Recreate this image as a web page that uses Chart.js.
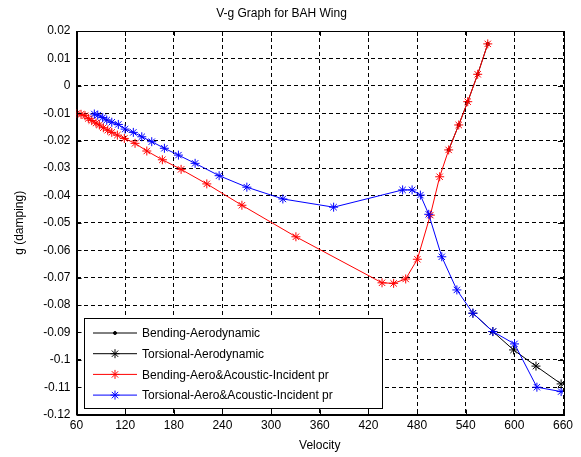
<!DOCTYPE html>
<html>
<head>
<meta charset="utf-8">
<script src="https://cdn.jsdelivr.net/npm/chart.js@4/dist/chart.umd.min.js"></script>
<style>
  body { margin: 0; background: #fff; }
  canvas { display: block; }
</style>
</head>
<body>
<canvas id="vg" width="581" height="457"></canvas>
<script>
// valores
const vBendAero = [519, 531.4, 542.5, 554.8, 567.2];
const gBendAero = [-0.0234, -0.0143, -0.0058, 0.0042, 0.0153];

const vTorsAero = [548.9, 573.5, 599.0, 626.7, 657.7];
const gTorsAero = [-0.0830, -0.0897, -0.0964, -0.1023, -0.1088];

const vBendAcou = [60.5, 65.6, 70.5, 74.6, 78.8, 84.1, 88.2, 93.1, 98.5, 103.5, 110.4, 119, 132.2, 146.7, 165.9, 189, 220.7, 264, 330.6, 436.8, 451.1, 466, 480.4, 496.4, 507.9, 519, 531.4, 542.5, 554.8, 567.2];
const gBendAcou = [-0.0101, -0.0104, -0.0109, -0.0119, -0.0127, -0.0136, -0.0143, -0.0153, -0.0162, -0.0170, -0.0180, -0.0192, -0.0210, -0.0238, -0.0270, -0.0305, -0.0358, -0.0436, -0.0551, -0.0719, -0.0721, -0.0705, -0.0633, -0.0472, -0.0332, -0.0234, -0.0143, -0.0058, 0.0042, 0.0153];

const vTorsAcou = [82, 86.2, 92.3, 97.3, 103.5, 111.6, 119.9, 130.1, 140.5, 152.8, 168.4, 185.7, 206.3, 235.9, 270.1, 314.5, 377.1, 462.2, 473.9, 484.1, 494.4, 510.5, 529.1, 548.9, 573.5, 600.2, 627.8, 657.7];
const gTorsAcou = [-0.0103, -0.0107, -0.0116, -0.0125, -0.0133, -0.0141, -0.0158, -0.0170, -0.0186, -0.0204, -0.0228, -0.0253, -0.0283, -0.0328, -0.0370, -0.0413, -0.0443, -0.0380, -0.0380, -0.0399, -0.0469, -0.0624, -0.0745, -0.0830, -0.0897, -0.0942, -0.1100, -0.1116];

const legendas = ['Bending-Aerodynamic', 'Torsional-Aerodynamic', 'Bending-Aero&Acoustic-Incident pr', 'Torsional-Aero&Acoustic-Incident pr'];
const cores = ['#000000', '#000000', '#ff0000', '#0000ff'];

function pontos(vs, gs) {
   return vs.map((v, i) => ({ x: v, y: gs[i] }));
}

const fonte = '"Liberation Sans", Arial, sans-serif';

// moldura, tracinhos e legenda estilo matlab
const molduraLegenda = {
   id: 'molduraLegenda',
   afterDatasetsDraw(chart) {
      const ctx = chart.ctx;
      const a = chart.chartArea;
      ctx.save();
      ctx.strokeStyle = '#000';
      ctx.lineWidth = 1;
      ctx.strokeRect(Math.round(a.left) + 0.5, Math.round(a.top) + 0.5, Math.round(a.right - a.left), Math.round(a.bottom - a.top));

      // tracinhos para dentro
      const sx = chart.scales.x, sy = chart.scales.y;
      ctx.beginPath();
      sx.ticks.forEach(t => {
         const px = Math.round(sx.getPixelForValue(t.value)) + 0.5;
         ctx.moveTo(px, a.bottom); ctx.lineTo(px, a.bottom - 5);
         ctx.moveTo(px, a.top); ctx.lineTo(px, a.top + 5);
      });
      sy.ticks.forEach(t => {
         const py = Math.round(sy.getPixelForValue(t.value)) + 0.5;
         ctx.moveTo(a.left, py); ctx.lineTo(a.left + 5, py);
         ctx.moveTo(a.right, py); ctx.lineTo(a.right - 5, py);
      });
      ctx.stroke();

      const bx = 84, by = 318, bw = 298, bh = 90;
      ctx.fillStyle = '#fff';
      ctx.fillRect(bx, by, bw, bh);
      ctx.strokeRect(bx + 0.5, by + 0.5, bw, bh);

      ctx.font = '12px ' + fonte;
      ctx.textBaseline = 'middle';
      legendas.forEach((txt, i) => {
         const y = 333 + i * 20.7;
         const ds = chart.data.datasets[i];
         ctx.strokeStyle = cores[i];
         ctx.fillStyle = cores[i];
         ctx.lineWidth = 1;
         ctx.beginPath();
         ctx.moveTo(93, y);
         ctx.lineTo(137, y);
         ctx.stroke();
         Chart.helpers.drawPoint(ctx, {
            pointStyle: ds.pointStyle,
            radius: ds.pointRadius,
            rotation: 0,
            borderWidth: 1
         }, 115, y);
         ctx.fillStyle = '#000';
         ctx.fillText(txt, 142, y + 1);
      });
      ctx.restore();
   }
};

const fundoBranco = {
   id: 'fundoBranco',
   beforeDraw(chart) {
      const ctx = chart.ctx;
      ctx.save();
      ctx.fillStyle = '#fff';
      ctx.fillRect(0, 0, chart.width, chart.height);
      ctx.restore();
   }
};

const ctx = document.getElementById('vg');
new Chart(ctx, {
   type: 'scatter',
   data: {
      datasets: [{
         label: legendas[0],
         data: pontos(vBendAero, gBendAero),
         showLine: true,
         borderColor: cores[0],
         backgroundColor: cores[0],
         borderWidth: 1,
         pointStyle: 'circle',
         pointRadius: 1.5,
         order: 3
      }, {
         label: legendas[1],
         data: pontos(vTorsAero, gTorsAero),
         showLine: true,
         borderColor: cores[1],
         backgroundColor: cores[1],
         borderWidth: 1,
         pointStyle: 'star',
         pointRadius: 4.5,
         order: 2
      }, {
         label: legendas[2],
         data: pontos(vBendAcou, gBendAcou),
         showLine: true,
         borderColor: cores[2],
         backgroundColor: cores[2],
         borderWidth: 1,
         pointStyle: 'star',
         pointRadius: 4.5,
         order: 1
      }, {
         label: legendas[3],
         data: pontos(vTorsAcou, gTorsAcou),
         showLine: true,
         borderColor: cores[3],
         backgroundColor: cores[3],
         borderWidth: 1,
         pointStyle: 'star',
         pointRadius: 4.5,
         order: 0
      }]
   },
   options: {
      responsive: false,
      animation: false,
      layout: {
         padding: { left: 0, right: 18, top: 0, bottom: 0 }
      },
      plugins: {
         legend: { display: false },
         tooltip: { enabled: false },
         title: {
            display: true,
            text: 'V-g Graph for BAH Wing',
            color: '#000',
            font: { family: fonte, size: 12, weight: 'normal' },
            padding: { top: 6, bottom: 10.6 }
         }
      },
      scales: {
         x: {
            type: 'linear',
            min: 60,
            max: 660,
            afterFit(scale) { scale.height = 42.4; },
            ticks: {
               stepSize: 60,
               color: '#000',
               padding: 4,
               maxRotation: 0,
               font: { family: fonte, size: 12 }
            },
            grid: {
               color: '#000',
               lineWidth: 1,
               drawTicks: false
            },
            border: { display: true, color: '#000', dash: [4, 3] },
            title: {
               display: true,
               text: 'Velocity',
               color: '#000',
               padding: { top: 0, bottom: 4 },
               font: { family: fonte, size: 12 }
            }
         },
         y: {
            type: 'linear',
            min: -0.12,
            max: 0.02,
            afterFit(scale) { scale.width = 76.5; },
            ticks: {
               stepSize: 0.01,
               color: '#000',
               padding: 6,
               font: { family: fonte, size: 12 },
               callback: function (v) { return String(Number(v.toFixed(2))); }
            },
            grid: {
               color: '#000',
               lineWidth: 1,
               drawTicks: false
            },
            border: { display: true, color: '#000', dash: [4, 3] },
            title: {
               display: true,
               text: 'g (damping)',
               color: '#000',
               padding: { top: 12, bottom: 0 },
               font: { family: fonte, size: 12 }
            }
         }
      }
   },
   plugins: [fundoBranco, molduraLegenda]
});
</script>
</body>
</html>
